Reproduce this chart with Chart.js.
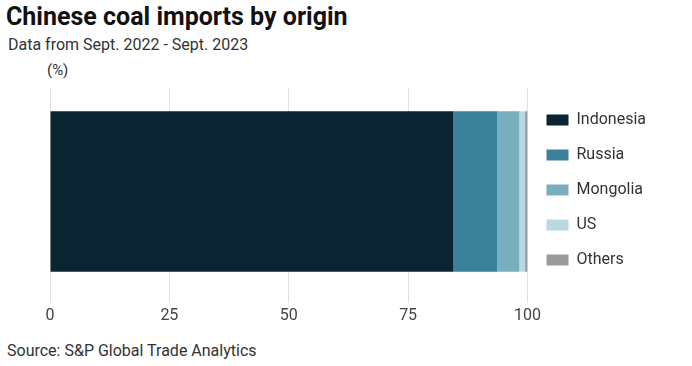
<!DOCTYPE html>
<html>
<head>
<meta charset="utf-8">
<script src="https://cdn.jsdelivr.net/npm/chart.js@4"></script>
<style>
  body { margin: 0; background: #fff; font-family: Roboto, sans-serif; }
  #wrap { position: relative; width: 692px; height: 366px; overflow: hidden; }
  #title { position: absolute; left: 6px; top: 2px; font-size: 25px; font-weight: bold; color: #111; }
  #sub { position: absolute; left: 8px; top: 35px; font-size: 16px; color: #333; }
  #unit { position: absolute; left: 47px; top: 61px; font-size: 15px; color: #333; }
  #source { position: absolute; left: 7px; top: 341px; font-size: 16px; color: #333; }
  #box { position: absolute; left: 0; top: 60px; width: 692px; height: 272px; }
</style>
</head>
<body>
<div id="wrap">
  <div id="title">Chinese coal imports by origin</div>
  <div id="sub">Data from Sept. 2022 - Sept. 2023</div>
  <div id="unit">(%)</div>
  <div id="box"><canvas id="coalChart"></canvas></div>
  <div id="source">Source: S&amp;P Global Trade Analytics</div>
</div>
<script>
// Shares of China's coal imports, Sept 2022 - Sept 2023
const categories = ["China"];
const origins = ["Indonesia", "Russia", "Mongolia", "US", "Others"];
const shares = [84.5, 9.2, 4.6, 1.2, 0.5];
const colors = ["#0a2431", "#3a8199", "#79aebf", "#b9d8e0", "#9a9a9c"];
const xTicks = [0, 25, 50, 75, 100];

const ctx = document.getElementById("coalChart").getContext("2d");
new Chart(ctx, {
  type: "bar",
  data: {
    labels: categories,
    datasets: origins.map((name, i) => ({
      label: name,
      data: [shares[i]],
      backgroundColor: colors[i],
      borderWidth: 0,
      barPercentage: 1,
      categoryPercentage: 0.776,
    })),
  },
  options: {
    indexAxis: "y",
    responsive: true,
    maintainAspectRatio: false,
    animation: false,
    layout: {
      padding: { left: 50, top: 28, right: 36, bottom: 2 },
    },
    plugins: {
      tooltip: { enabled: false },
      legend: {
        position: "right",
        align: "start",
        fullSize: false,
        // empty title just nudges the items down a few px
        title: { display: true, text: "", font: { size: 3, lineHeight: 1 }, padding: 1 },
        labels: {
          boxWidth: 22,
          boxHeight: 11,
          padding: 19,
          color: "#333",
          font: { family: "Roboto", size: 16 },
        },
      },
    },
    scales: {
      x: {
        stacked: true,
        min: 0,
        max: 100,
        afterBuildTicks: (axis) => {
          axis.ticks = xTicks.map((v) => ({ value: v }));
        },
        border: { display: false },
        grid: { color: "#e0e0e0", tickLength: 8 },
        ticks: {
          padding: 4,
          color: "#444",
          font: { family: "Roboto", size: 16 },
        },
      },
      y: {
        stacked: true,
        display: false,
      },
    },
  },
});
</script>
</body>
</html>
